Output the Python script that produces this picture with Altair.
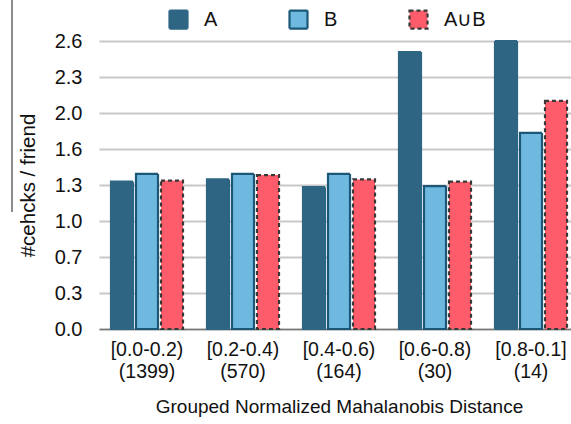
import altair as alt
import pandas as pd

# Distance bins and number of users per bin
ranges = ["[0.0-0.2)", "[0.2-0.4)", "[0.4-0.6)", "[0.6-0.8)", "[0.8-0.1]"]
counts = ["(1399)", "(570)", "(164)", "(30)", "(14)"]

# Series and their values (#checks per friend)
series = ["A", "B", "A\u222aB"]
a_vals = [1.33, 1.35, 1.28, 2.50, 2.60]
b_vals = [1.40, 1.40, 1.40, 1.29, 1.77]
ab_vals = [1.34, 1.39, 1.35, 1.33, 2.06]

# Y tick positions (eight equal steps up to 2.6)
y_ticks = [0, 0.325, 0.65, 0.975, 1.3, 1.625, 1.95, 2.275, 2.6]

groups = [f"{r}|{c}" for r, c in zip(ranges, counts)]
rows = []
for name, vals in zip(series, [a_vals, b_vals, ab_vals]):
    for g, v in zip(groups, vals):
        rows.append({"group": g, "series": name, "value": v})
df = pd.DataFrame(rows)

fills = ["#2e6583", "#6fb8df", "#ff5c6b"]
strokes = ["#2e6583", "#1b5878", "#383838"]
dashes = [[1, 0], [1, 0], [4, 3]]

FONT = "Liberation Sans"

bars = alt.Chart(df).mark_bar(strokeWidth=2.2, opacity=1).encode(
    x=alt.X(
        "group:N",
        sort=groups,
        scale=alt.Scale(range=[0, 480], paddingInner=0.25, paddingOuter=0.125),
        axis=alt.Axis(
            labelExpr="split(datum.label, '|')",
            labelAngle=0,
            labelFontSize=19.5,
            labelLineHeight=22,
            labelPadding=11,
            labelColor="#111",
            ticks=False,
            domainColor="#777",
            domainWidth=1.5,
            grid=False,
            title="Grouped Normalized Mahalanobis Distance",
            titleFontSize=19,
            titleFontWeight="normal",
            titleColor="#111",
            titlePadding=17,
        ),
    ),
    xOffset=alt.XOffset(
        "series:N", sort=series, scale=alt.Scale(paddingInner=0.12, paddingOuter=0)
    ),
    y=alt.Y(
        "value:Q",
        scale=alt.Scale(domain=[0, 2.6], nice=False),
        axis=alt.Axis(
            values=y_ticks,
            labelExpr="format(datum.value + 1e-9, '.1f')",
            labelFontSize=20,
            labelPadding=17,
            labelColor="#111",
            domain=False,
            ticks=False,
            gridColor="#c8c8c8",
            gridWidth=2,
            title="#cehcks / friend",
            titleFontSize=20.5,
            titleFontWeight="normal",
            titleColor="#111",
            titlePadding=16,
        ),
    ),
    fill=alt.Fill(
        "series:N",
        sort=series,
        scale=alt.Scale(domain=series, range=fills),
        legend=alt.Legend(
            title=None,
            orient="none",
            direction="horizontal",
            legendX=69,
            legendY=-32,
        ),
    ),
    stroke=alt.Stroke(
        "series:N", sort=series, scale=alt.Scale(domain=series, range=strokes)
    ),
    strokeDash=alt.StrokeDash(
        "series:N", sort=series, scale=alt.Scale(domain=series, range=dashes)
    ),
)

# thin vertical line at the far left edge
edge = alt.Chart(alt.Data(values=[{}])).mark_rule(
    color="#666", strokeWidth=1.5
).encode(x=alt.value(-87), y=alt.value(-41), y2=alt.value(171))

chart = (
    alt.layer(bars, edge)
    .properties(
        width=472,
        height=288,
        autosize=alt.AutoSizeParams(type="none"),
        padding={"left": 99, "top": 41, "right": 0, "bottom": 95},
        background="white",
    )
    .configure(font=FONT)
    .configure_view(stroke=None)
    .configure_legend(
        symbolType="square",
        symbolSize=324,
        symbolStrokeWidth=2.2,
        labelFontSize=20,
        labelOffset=15,
        labelColor="#111",
        gridAlign="all",
        columnPadding=39,
    )
)

chart.save("out.html", embed_options={"renderer": "svg", "actions": False})
